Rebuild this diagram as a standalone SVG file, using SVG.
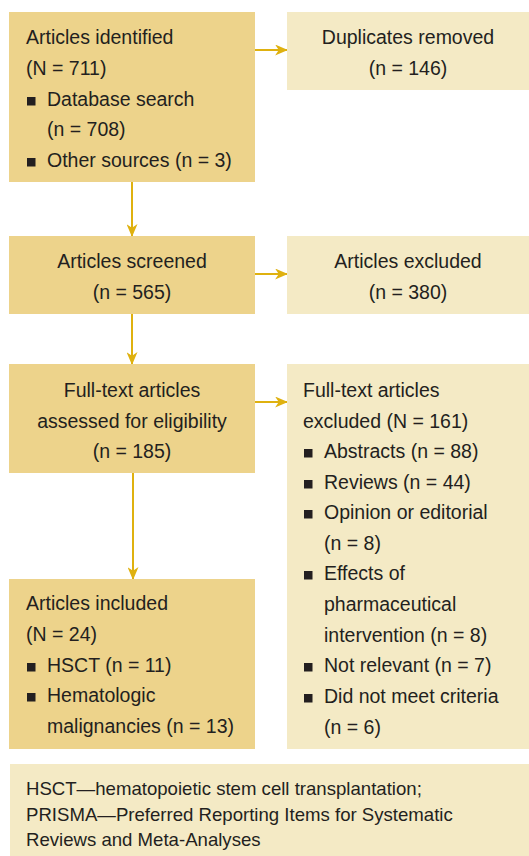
<svg xmlns="http://www.w3.org/2000/svg" width="529" height="856" viewBox="0 0 529 856">
<style>
.dark{fill:#edd38b}
.light{fill:#f4eac5}
text{font-family:"Liberation Sans",Arial,sans-serif;font-size:19.5px;fill:#231f20}
.c{text-anchor:middle}
.fn{font-size:18.6px}
.b{fill:#231f20}
.conn{stroke:#dfb10f;stroke-width:2;fill:none;marker-end:url(#ah)}
</style>
<defs>
<marker id="ah" viewBox="0 0 14 12" refX="13" refY="6" markerWidth="14" markerHeight="11" markerUnits="userSpaceOnUse" orient="auto">
<path d="M0,0 L14,6 L0,12 L4,6 z" fill="#dfb10f"/>
</marker>
</defs>
<rect width="529" height="856" fill="#ffffff"/>
<g id="connectors">
<line class="conn" x1="255" y1="50" x2="287" y2="50"/>
<line class="conn" x1="132" y1="182" x2="132" y2="236"/>
<line class="conn" x1="255" y1="274" x2="287" y2="274"/>
<line class="conn" x1="132" y1="314" x2="132" y2="364"/>
<line class="conn" x1="255" y1="402" x2="287" y2="402"/>
<line class="conn" x1="133" y1="473" x2="133" y2="579"/>
</g>
<g id="identified">
<rect class="dark" x="9" y="12" width="246" height="170"/>
<text x="26" y="44">Articles identified</text>
<text x="26" y="75">(N = 711)</text>
<rect class="b" x="27" y="97" width="8.5" height="8.5"/>
<text x="47" y="106">Database search</text>
<text x="47" y="136">(n = 708)</text>
<rect class="b" x="27" y="158" width="8.5" height="8.5"/>
<text x="47" y="167">Other sources (n = 3)</text>
</g>
<g id="duplicates">
<rect class="light" x="287" y="12" width="242" height="78"/>
<text class="c" x="408" y="44">Duplicates removed</text>
<text class="c" x="408" y="75">(n = 146)</text>
</g>
<g id="screened">
<rect class="dark" x="9" y="236" width="246" height="78"/>
<text class="c" x="132" y="268">Articles screened</text>
<text class="c" x="132" y="299">(n = 565)</text>
</g>
<g id="excluded">
<rect class="light" x="287" y="236" width="242" height="78"/>
<text class="c" x="408" y="268">Articles excluded</text>
<text class="c" x="408" y="299">(n = 380)</text>
</g>
<g id="fulltext">
<rect class="dark" x="9" y="364" width="246" height="109"/>
<text class="c" x="132" y="397">Full-text articles</text>
<text class="c" x="132" y="428">assessed for eligibility</text>
<text class="c" x="132" y="458">(n = 185)</text>
</g>
<g id="ftexcluded">
<rect class="light" x="287" y="364" width="242" height="385"/>
<text x="303" y="397">Full-text articles</text>
<text x="303" y="428">excluded (N = 161)</text>
<rect class="b" x="304" y="449" width="8.5" height="8.5"/>
<text x="324" y="458">Abstracts (n = 88)</text>
<rect class="b" x="304" y="480" width="8.5" height="8.5"/>
<text x="324" y="489">Reviews (n = 44)</text>
<rect class="b" x="304" y="510" width="8.5" height="8.5"/>
<text x="324" y="519">Opinion or editorial</text>
<text x="324" y="550">(n = 8)</text>
<rect class="b" x="304" y="571" width="8.5" height="8.5"/>
<text x="324" y="580">Effects of</text>
<text x="324" y="611">pharmaceutical</text>
<text x="324" y="642">intervention (n = 8)</text>
<rect class="b" x="304" y="663" width="8.5" height="8.5"/>
<text x="324" y="672">Not relevant (n = 7)</text>
<rect class="b" x="304" y="694" width="8.5" height="8.5"/>
<text x="324" y="703">Did not meet criteria</text>
<text x="324" y="734">(n = 6)</text>
</g>
<g id="included">
<rect class="dark" x="9" y="579" width="246" height="170"/>
<text x="26" y="610">Articles included</text>
<text x="26" y="641">(N = 24)</text>
<rect class="b" x="27" y="663" width="8.5" height="8.5"/>
<text x="47" y="672">HSCT (n = 11)</text>
<rect class="b" x="27" y="693" width="8.5" height="8.5"/>
<text x="47" y="702">Hematologic</text>
<text x="47" y="733">malignancies (n = 13)</text>
</g>
<g id="footnote">
<rect class="light" x="10" y="764" width="519" height="92"/>
<text class="fn" x="26" y="795">HSCT—hematopoietic stem cell transplantation;</text>
<text class="fn" x="26" y="821">PRISMA—Preferred Reporting Items for Systematic</text>
<text class="fn" x="26" y="846">Reviews and Meta-Analyses</text>
</g>
</svg>
